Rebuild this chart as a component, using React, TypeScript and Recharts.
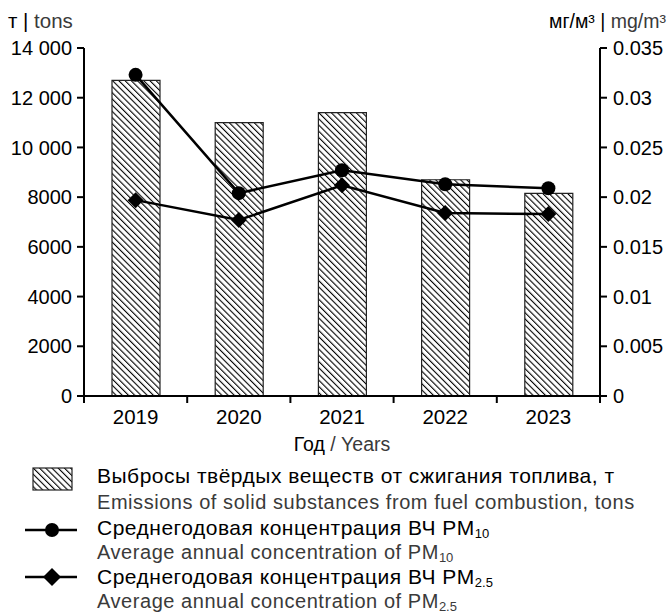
import { ComposedChart, Bar, Line, XAxis, YAxis } from "recharts";

const years = ["2019", "2020", "2021", "2022", "2023"];
const emissions = [12700, 11000, 11400, 8700, 8150];
const pm10 = [0.0323, 0.0204, 0.0227, 0.0213, 0.0209];
const pm25 = [0.0197, 0.0177, 0.0212, 0.0184, 0.0183];
const leftTicks = [0, 2000, 4000, 6000, 8000, 10000, 12000, 14000];
const rightTicks = [0, 0.005, 0.01, 0.015, 0.02, 0.025, 0.03, 0.035];

const data = years.map((year, i) => ({
  year,
  emissions: emissions[i],
  pm10: pm10[i],
  pm25: pm25[i],
}));

// layout
const W = 668;
const CHART_H = 460;
const LEFT_W = 84;
const RIGHT_W = 68;
const TOP = 48;
const BOTTOM_MARGIN = 24;
const X_AXIS_H = 40;
const PLOT_BOTTOM = CHART_H - BOTTOM_MARGIN - X_AXIS_H;
const BAND = (W - LEFT_W - RIGHT_W) / years.length;

const FONT = "'Liberation Sans', Arial, sans-serif";
const GREY = "#3a3a3a";

const fmtLeft = (v: number) =>
  v >= 10000 ? String(v).replace(/(\d+)(\d{3})$/, "$1 $2") : String(v);

const XTick = (props: any) => {
  const { x, payload, index } = props;
  return (
    <g>
      <line x1={x - BAND / 2} x2={x - BAND / 2} y1={PLOT_BOTTOM} y2={PLOT_BOTTOM + 7} stroke="#000" strokeWidth={2} />
      {index === years.length - 1 && (
        <line x1={x + BAND / 2} x2={x + BAND / 2} y1={PLOT_BOTTOM} y2={PLOT_BOTTOM + 7} stroke="#000" strokeWidth={2} />
      )}
      <text x={x} y={PLOT_BOTTOM + 28} textAnchor="middle" fontSize={20.5} fill="#000" fontFamily={FONT}>
        {payload.value}
      </text>
    </g>
  );
};

const Dot = (props: any) => {
  const { cx, cy } = props;
  if (cx == null || cy == null) return null;
  return <circle key={`c-${cx}`} cx={cx} cy={cy} r={7} fill="#000" />;
};

const Diamond = (props: any) => {
  const { cx, cy } = props;
  if (cx == null || cy == null) return null;
  const r = 8;
  return (
    <path
      key={`d-${cx}`}
      d={`M${cx},${cy - r}L${cx + r},${cy}L${cx},${cy + r}L${cx - r},${cy}Z`}
      fill="#000"
    />
  );
};

const Hatch = ({ id }: { id: string }) => (
  <pattern id={id} patternUnits="userSpaceOnUse" width={4.4} height={4.4} patternTransform="rotate(-45)">
    <rect width={4.4} height={4.4} fill="#fff" />
    <line x1={0} y1={0} x2={0} y2={4.4} stroke="#000" strokeWidth={2.2} />
  </pattern>
);

const ruStyle = { fontSize: 21, letterSpacing: 0.5 };
const enStyle = { fontSize: 20, letterSpacing: 0.55 };

export default function App() {
  return (
    <div style={{ position: "absolute", left: 0, top: 0, width: W, height: 615, background: "#fff", fontFamily: FONT }}>
      <ComposedChart
        width={W}
        height={CHART_H}
        data={data}
        margin={{ top: TOP, right: 0, bottom: BOTTOM_MARGIN, left: 0 }}
        barCategoryGap={0}
      >
        <defs>
          <Hatch id="hatchBar" />
        </defs>
        <XAxis
          dataKey="year"
          height={X_AXIS_H}
          axisLine={{ stroke: "#000", strokeWidth: 2 }}
          tickLine={false}
          tick={<XTick />}
          interval={0}
        />
        <YAxis
          yAxisId="left"
          width={LEFT_W}
          domain={[0, 14000]}
          ticks={leftTicks}
          tickFormatter={fmtLeft}
          axisLine={{ stroke: "#000", strokeWidth: 2 }}
          tickLine={{ stroke: "#000", strokeWidth: 2 }}
          tickSize={7}
          tickMargin={5}
          tick={{ fontSize: 20, fill: "#000", fontFamily: FONT }}
          interval={0}
        />
        <YAxis
          yAxisId="right"
          orientation="right"
          width={RIGHT_W}
          domain={[0, 0.035]}
          ticks={rightTicks}
          tickFormatter={(v: number) => String(v)}
          axisLine={{ stroke: "#000", strokeWidth: 2 }}
          tickLine={{ stroke: "#000", strokeWidth: 2 }}
          tickSize={7}
          tickMargin={6}
          tick={{ fontSize: 20, fill: "#000", fontFamily: FONT }}
          interval={0}
        />
        <Bar
          yAxisId="left"
          dataKey="emissions"
          barSize={48}
          fill="url(#hatchBar)"
          stroke="#222"
          strokeWidth={1.2}
          isAnimationActive={false}
        />
        <Line
          yAxisId="right"
          dataKey="pm10"
          type="linear"
          stroke="#000"
          strokeWidth={2.5}
          dot={<Dot />}
          activeDot={false}
          isAnimationActive={false}
        />
        <Line
          yAxisId="right"
          dataKey="pm25"
          type="linear"
          stroke="#000"
          strokeWidth={2.5}
          dot={<Diamond />}
          activeDot={false}
          isAnimationActive={false}
        />
      </ComposedChart>

      {/* axis titles and legend */}
      <svg width={W} height={615} style={{ position: "absolute", left: 0, top: 0, pointerEvents: "none" }} fontFamily={FONT}>
        <defs>
          <Hatch id="hatchLegend" />
        </defs>
        <text x={8} y={28} fontSize={20.5} fill="#000">
          т | <tspan fill={GREY}>tons</tspan>
        </text>
        <text x={666} y={28} fontSize={19.5} fill="#000" textAnchor="end">
          мг/м³ | <tspan fill={GREY}>mg/m³</tspan>
        </text>
        <text x={(LEFT_W + W - RIGHT_W) / 2} y={451} fontSize={19.5} fill="#000" textAnchor="middle">
          Год <tspan fill={GREY}>/ Years</tspan>
        </text>

        <rect x={33} y={468} width={39} height={22} fill="url(#hatchLegend)" stroke="#222" strokeWidth={1.2} />
        <text x={97} y={483} fill="#000" style={ruStyle}>Выбросы твёрдых веществ от сжигания топлива, т</text>
        <text x={97} y={509} fill={GREY} style={enStyle}>Emissions of solid substances from fuel combustion, tons</text>

        <line x1={25} x2={77} y1={530} y2={530} stroke="#000" strokeWidth={2.5} />
        <circle cx={52} cy={530} r={7} fill="#000" />
        <text x={97} y={535} fill="#000" style={ruStyle}>
          Среднегодовая концентрация ВЧ PM<tspan fontSize={13} dy={3} letterSpacing={0}>10</tspan>
        </text>
        <text x={97} y={559} fill={GREY} style={enStyle}>
          Average annual concentration of PM<tspan fontSize={13} dy={3} letterSpacing={0}>10</tspan>
        </text>

        <line x1={25} x2={77} y1={577} y2={577} stroke="#000" strokeWidth={2.5} />
        <path d="M52,568L61,577L52,586L43,577Z" fill="#000" />
        <text x={97} y={584} fill="#000" style={ruStyle}>
          Среднегодовая концентрация ВЧ PM<tspan fontSize={13} dy={3} letterSpacing={0}>2.5</tspan>
        </text>
        <text x={97} y={608} fill={GREY} style={enStyle}>
          Average annual concentration of PM<tspan fontSize={13} dy={3} letterSpacing={0}>2.5</tspan>
        </text>
      </svg>
    </div>
  );
}
